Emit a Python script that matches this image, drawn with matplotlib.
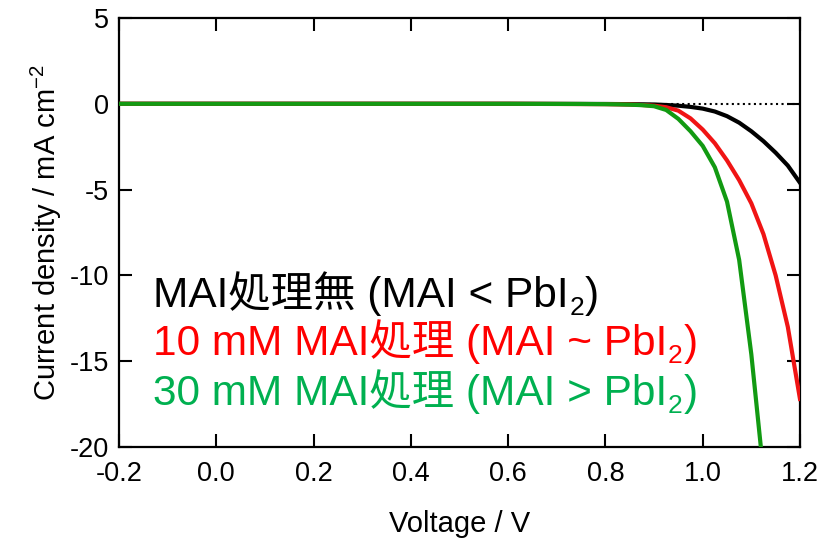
import matplotlib
matplotlib.use("Agg")
import matplotlib.pyplot as plt

# Fonts: Arial-like for latin, CJK fallback for the Japanese labels
plt.rcParams['font.family'] = ['Liberation Sans', 'Noto Sans CJK JP', 'DejaVu Sans']
plt.rcParams['mathtext.fontset'] = 'custom'
plt.rcParams['mathtext.rm'] = 'Liberation Sans'
plt.rcParams['axes.unicode_minus'] = False

# J-V data (V in volts, J in mA cm-2)
black_v = [-0.2, 0.6, 0.8, 0.85, 0.9, 0.925, 0.95, 0.975, 1.0, 1.025, 1.05,
           1.075, 1.1, 1.125, 1.15, 1.175, 1.2]
black_j = [0, 0, -0.01, -0.02, -0.04, -0.07, -0.11, -0.18, -0.28, -0.45, -0.72,
           -1.1, -1.6, -2.18, -2.85, -3.6, -4.6]

red_v = [-0.2, 0.6, 0.8, 0.85, 0.875, 0.9, 0.925, 0.95, 0.975, 1.0, 1.025, 1.05,
         1.075, 1.1, 1.125, 1.15, 1.175, 1.2]
red_j = [0, 0, -0.02, -0.04, -0.07, -0.11, -0.2, -0.4, -0.85, -1.5, -2.3, -3.3,
         -4.45, -5.8, -7.6, -10.0, -13.0, -17.2]

green_v = [-0.2, 0.6, 0.75, 0.8, 0.825, 0.85, 0.875, 0.9, 0.925, 0.95, 0.975,
           1.0, 1.025, 1.05, 1.075, 1.1, 1.125]
green_j = [0, 0, -0.01, -0.02, -0.03, -0.05, -0.08, -0.14, -0.36, -0.88, -1.6,
           -2.45, -3.7, -5.7, -9.1, -14.6, -21.5]

labels = ['MAI処理無 (MAI < PbI', '10 mM MAI処理 (MAI ~ PbI', '30 mM MAI処理 (MAI > PbI']
text_colors = ['black', '#ff0000', '#00b050']

xticks = [-0.2, 0.0, 0.2, 0.4, 0.6, 0.8, 1.0, 1.2]
yticks = [5, 0, -5, -10, -15, -20]

fig = plt.figure(figsize=(8.32, 5.39), dpi=100)
ax = fig.add_axes([0.143, 0.1707, 0.8185, 0.7959])

ax.plot([-0.2, 1.2], [0, 0], color='black', ls=':', lw=1.5, zorder=1)
ax.plot(black_v, black_j, color='black', lw=3, zorder=2)
ax.plot(red_v, red_j, color='#f01414', lw=3, zorder=3)
ax.plot(green_v, green_j, color='#129a12', lw=3, zorder=4)

ax.set_xlim(-0.2, 1.2)
ax.set_ylim(-20, 5)
ax.set_xticks(xticks)
ax.set_xticklabels(['%.1f' % t for t in xticks])
ax.set_yticks(yticks)
ax.tick_params(direction='in', length=9.5, width=1.5, labelsize=19.5,
               top=True, right=True, pad=7)
ax.tick_params(axis='x', pad=10)
for sp in ax.spines.values():
    sp.set_linewidth(1.6)

ax.set_xlabel('Voltage / V', fontsize=21, labelpad=17)
ax.set_ylabel('Current density / mA cm$^{-2}$', fontsize=21, labelpad=4)

# legend-like text lines, with a hand-made subscript 2
base_y = [0.326, 0.2145, 0.098]
for lab, col, yb in zip(labels, text_colors, base_y):
    t = ax.text(0.05, yb, lab, transform=ax.transAxes, fontsize=30.5,
                color=col, va='baseline', ha='left')
    s = ax.annotate('2', xy=(1, yb), xycoords=(t, 'axes fraction'),
                    xytext=(0.5, -6), textcoords='offset points',
                    fontsize=19, color=col, va='baseline', ha='left')
    ax.annotate(')', xy=(1, yb), xycoords=(s, 'axes fraction'),
                xytext=(0.5, 0), textcoords='offset points',
                fontsize=30.5, color=col, va='baseline', ha='left')

fig.savefig('out.png', dpi=100)
